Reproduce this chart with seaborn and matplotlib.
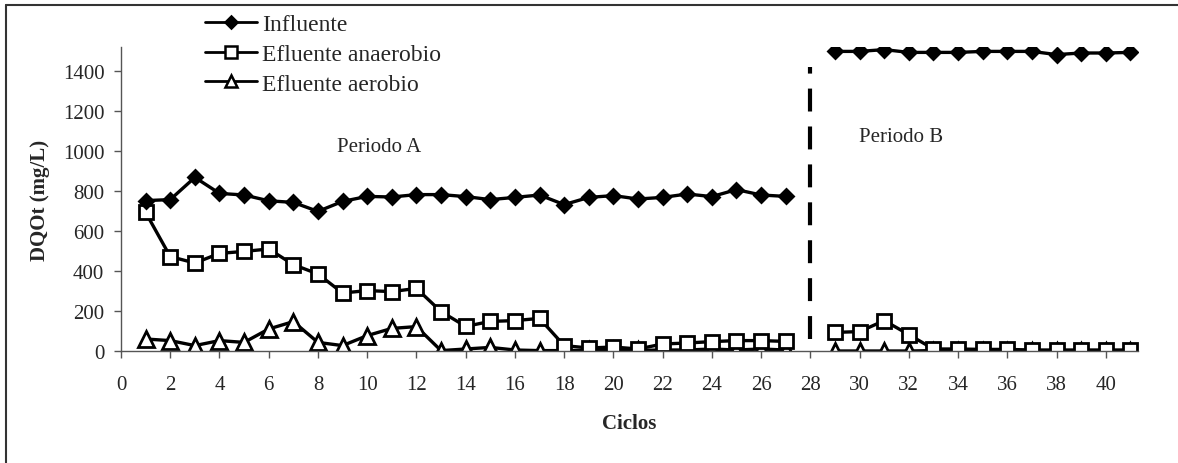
import numpy as np
import pandas as pd
import matplotlib
matplotlib.use("Agg")
import matplotlib.pyplot as plt
from matplotlib.lines import Line2D
import seaborn as sns

# Periodo A: ciclos 1-27, Periodo B: ciclos 29-41
ciclos_a = list(range(1, 28))
ciclos_b = list(range(29, 42))

influente_a = [752, 757, 868, 788, 780, 751, 743, 698, 748, 773, 770, 782, 782,
               772, 757, 768, 780, 732, 768, 777, 760, 768, 785, 772, 807, 780, 773]
anaerobio_a = [693, 472, 440, 488, 498, 510, 432, 385, 290, 302, 297, 313, 197,
               123, 148, 152, 163, 27, 15, 20, 10, 35, 40, 47, 52, 52, 48]
aerobio_a = [60, 52, 27, 52, 43, 110, 147, 43, 27, 77, 113, 122, 2,
             10, 18, 5, 2, 2, 3, 5, 3, 5, 5, 10, 5, 10, 5]

influente_b = [1498, 1498, 1507, 1493, 1493, 1493, 1498, 1498, 1498, 1482, 1490, 1490, 1493]
anaerobio_b = [93, 97, 152, 82, 10, 10, 8, 8, 5, 5, 5, 5, 5]
aerobio_b = [0, 0, 0, 0, 2, 2, 2, 2, 2, 0, 0, 0, 0]

series = ["Influente", "Efluente anaerobio", "Efluente aerobio"]
markers = {"Influente": "D", "Efluente anaerobio": "s", "Efluente aerobio": "^"}
facecolors = {"Influente": "black", "Efluente anaerobio": "white", "Efluente aerobio": "white"}
msizes = {"Influente": 7.5, "Efluente anaerobio": 10.5, "Efluente aerobio": 12}

yticks = [0, 200, 400, 600, 800, 1000, 1200, 1400]
xticks = list(range(0, 41, 2))


def build_frame():
    rows = []
    for periodo, ciclos, vals in [
        ("A", ciclos_a, [influente_a, anaerobio_a, aerobio_a]),
        ("B", ciclos_b, [influente_b, anaerobio_b, aerobio_b]),
    ]:
        for name, v in zip(series, vals):
            for c, y in zip(ciclos, v):
                rows.append({"ciclo": c, "dqo": y, "serie": name, "periodo": periodo})
    return pd.DataFrame(rows)


df = build_frame()

sns.set_style("white")
plt.rcParams["font.family"] = ["Liberation Serif", "DejaVu Serif"]

fig = plt.figure(figsize=(11.78, 4.64), dpi=100)
ax = fig.add_axes([121 / 1178, 1 - 352 / 464, (1137.8 - 121) / 1178, (352 - 48) / 464])

# draw in reverse order so the influent sits on top
for name in reversed(series):
    for periodo in ["A", "B"]:
        sub = df[(df["serie"] == name) & (df["periodo"] == periodo)]
        sns.lineplot(
            data=sub, x="ciclo", y="dqo", ax=ax, estimator=None,
            color="black", linewidth=2.4, marker=markers[name],
            markersize=msizes[name], markerfacecolor=facecolors[name],
            markeredgecolor="black", markeredgewidth=2.0, legend=False,
        )

# separation between periods
ax.plot([28, 28], [60, 1420], color="black", linewidth=3, linestyle=(0, (5.5, 3.6)))

ax.text(10.5, 1020, "Periodo A", ha="center", va="center", fontsize=15)
ax.text(31.7, 1075, "Periodo B", ha="center", va="center", fontsize=15)

ax.set_xlim(0, 41.3)
ax.set_ylim(0, 1520)
ax.set_xticks(xticks)
ax.set_yticks(yticks)
ax.tick_params(axis="both", labelsize=15, direction="out", length=5, width=1,
               color="#555555", left=True, bottom=True)
ax.tick_params(axis="y", pad=7)
ax.tick_params(axis="x", pad=12)

for side in ["top", "right"]:
    ax.spines[side].set_visible(False)
for side in ["left", "bottom"]:
    ax.spines[side].set_color("#555555")
    ax.spines[side].set_linewidth(1)

ax.set_xlabel("Ciclos", fontsize=15, fontweight="bold")
ax.set_ylabel("DQOt (mg/L)", fontsize=15, fontweight="bold")
ax.xaxis.set_label_coords(0.5, -0.205)
ax.yaxis.set_label_coords(-0.07, 0.5)

handles = [
    Line2D([], [], color="black", linewidth=2, marker=markers[s],
           markersize=6 if s == "Influente" else 8,
           markerfacecolor=facecolors[s], markeredgecolor="black", markeredgewidth=1.8)
    for s in series
]
fig.legend(handles, series, loc="upper left", bbox_to_anchor=(196 / 1178, 1 - 5 / 464),
           frameon=False, fontsize=17, handlelength=2.2, handletextpad=0.2,
           labelspacing=0.35, borderaxespad=0)

# chart area border (left and top only visible in the reference)
fig.add_artist(Line2D([6 / 1178, 6 / 1178], [0, 1 - 6 / 464], color="#333333", linewidth=1.5))
fig.add_artist(Line2D([6 / 1178, 1], [1 - 6 / 464, 1 - 6 / 464], color="#333333", linewidth=1.5))

fig.savefig("out.png", dpi=100)
